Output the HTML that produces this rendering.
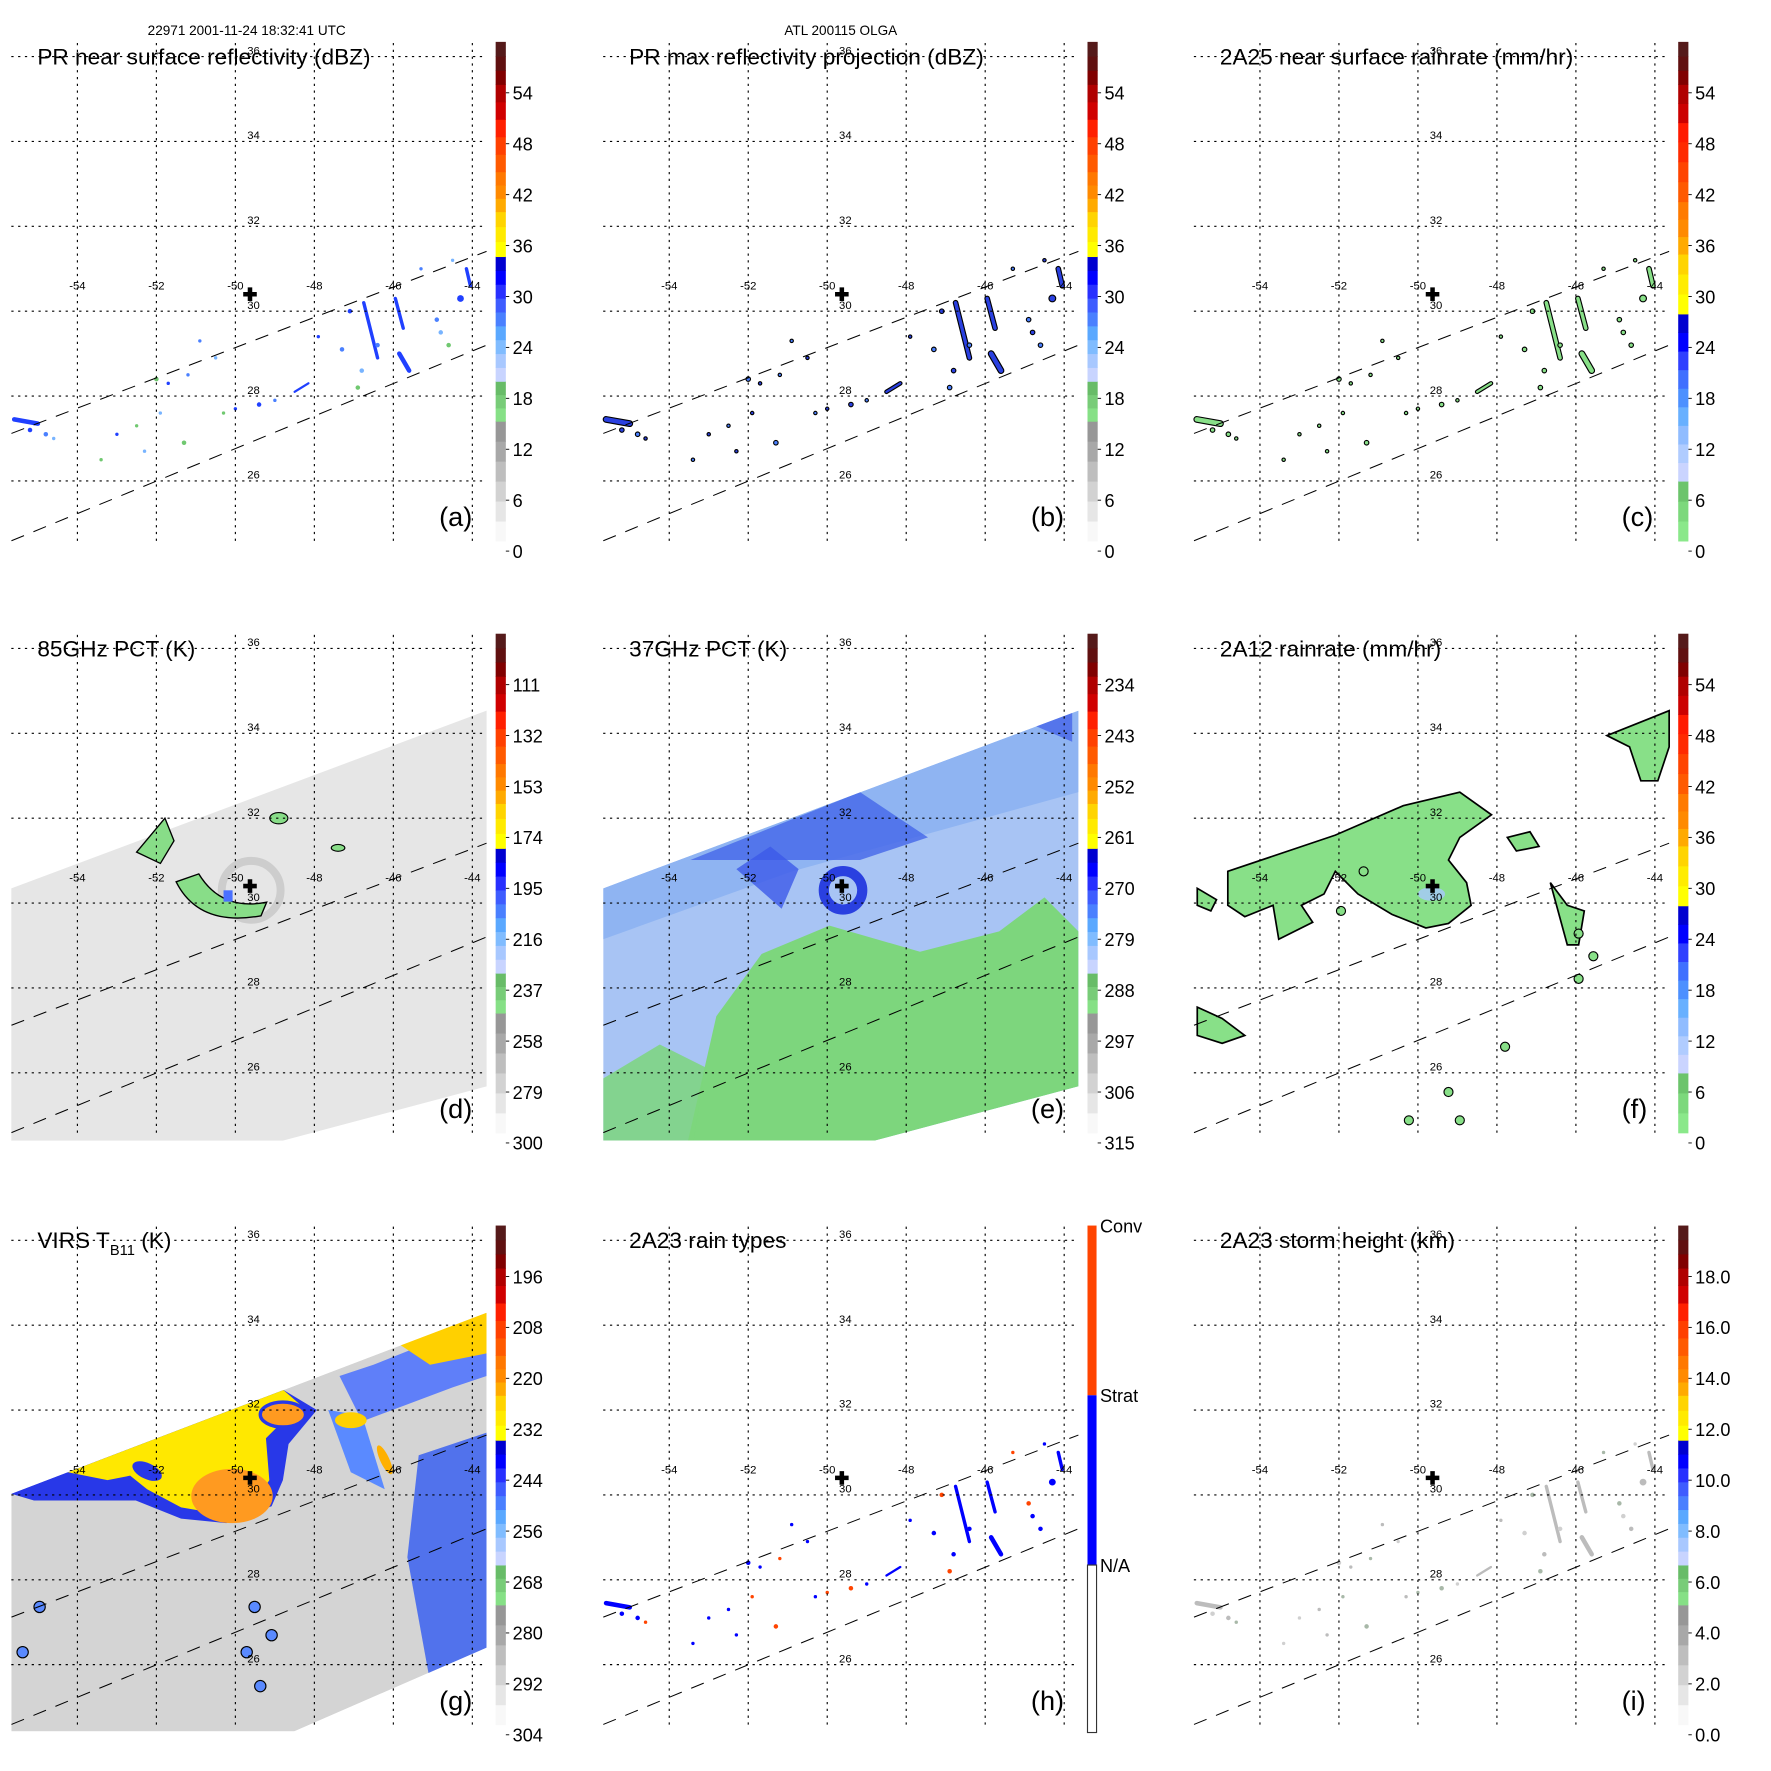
<!DOCTYPE html>
<html><head><meta charset="utf-8">
<style>
html,body{margin:0;padding:0;background:#fff;}
svg{display:block;font-family:"Liberation Sans",sans-serif;}
</style></head>
<body>
<svg id="fig" width="1771" height="1771" viewBox="0 0 1565 1565" xmlns="http://www.w3.org/2000/svg">
<rect x="0" y="0" width="1565" height="1565" fill="#fff"/>
<defs>
<clipPath id="clipG"><polygon points="10,1320 430,1160 430,1456 260,1530 10,1530"/></clipPath>
<clipPath id="clipE"><polygon points="533,785 953,628 953,960 773,1008 533,1008"/></clipPath>
</defs>
</svg>
<script>
// ---- data arrays ----
const lonTicks = [-54,-52,-50,-48,-46,-44];
const latTicks = [36,34,32,30,28,26];
const stormCenter = [-49.63, 30.4];
const panelTitles = ["PR near surface reflectivity (dBZ)","PR max reflectivity projection (dBZ)","2A25 near surface rainrate (mm/hr)","85GHz PCT (K)","37GHz PCT (K)","2A12 rainrate (mm/hr)","VIRS T","2A23 rain types","2A23 storm height (km)"];
const panelLetters = ["(a)","(b)","(c)","(d)","(e)","(f)","(g)","(h)","(i)"];
const cbLabelsA = ["0","6","12","18","24","30","36","42","48","54"];
const cbLabelsD = ["300","279","258","237","216","195","174","153","132","111"];
const cbLabelsE = ["315","306","297","288","279","270","261","252","243","234"];
const cbLabelsG = ["304","292","280","268","256","244","232","220","208","196"];
const cbLabelsI = ["0.0","2.0","4.0","6.0","8.0","10.0","12.0","14.0","16.0","18.0"];
const swathUpper = [[-55.67,27.12],[-43.64,31.41]];
const swathLower = [[-55.67,24.59],[-43.64,29.2]];
const streaks = [[-46.75,30.2,-46.4,28.9,3],[-45.95,30.3,-45.75,29.6,3],[-45.85,29.0,-45.6,28.6,4],[-44.15,31.0,-44.05,30.6,3],[-48.5,28.1,-48.15,28.3,2],[-55.6,27.45,-55.0,27.35,4]];
const dots = [[-44.3,30.3,3],[-44.9,29.8,2],[-44.8,29.5,2],[-44.6,29.2,2],[-47.1,30.0,2],[-47.3,29.1,2],[-46.8,28.6,2],[-46.9,28.2,2],[-55.2,27.2,2],[-54.8,27.1,2],[-54.6,27.0,1.5],[-52.0,28.4,2],[-51.7,28.3,1.5],[-51.2,28.5,1.5],[-50.5,28.9,1.5],[-50.3,27.6,1.5],[-49.4,27.8,2],[-49.0,27.9,1.5],[-52.3,26.7,1.5],[-51.3,26.9,2],[-53.0,27.1,1.5],[-50.9,29.3,1.5],[-51.9,27.6,1.5],[-53.4,26.5,1.5],[-47.9,29.4,1.5],[-45.3,31.0,1.5],[-44.5,31.2,1.5],[-52.5,27.3,1.5],[-50.0,27.7,1.5],[-46.4,29.2,2]];

const colOff = [0,523,1045], rowOff = [0,523,1046];
function px(lon,c){return 208 + (lon+50)*34.9 + colOff[c];}
function py(lat,r){return 275 - (lat-30)*37.5 + rowOff[r];}
const NS = "http://www.w3.org/2000/svg";
const svg = document.getElementById('fig');
function mk(tag, attrs, parent){const e=document.createElementNS(NS,tag);for(const k in attrs)e.setAttribute(k,attrs[k]);(parent||svg).appendChild(e);return e;}

const scaleStd = [[0,0.24,["#f8f8f8","#e6e6e6","#d2d2d2","#bebebe","#a8a8a8","#979797"]],[0.24,0.32,["#86e086","#78cc78","#68bc68"]],[0.32,0.57,["#c8d4ff","#a8c8ff","#80bcff","#5aa8ff","#4a80ff","#3e5cff","#2830ff","#0000ff","#0000d0"]],[0.57,0.66,["#ffff00","#ffea00","#ffd400"]],[0.66,0.74,["#ffaa00","#ff8a00","#ff7800"]],[0.74,0.915,["#ff5a00","#ff4000","#ff2000","#d00000","#b00000"]],[0.915,1,["#800000","#601010","#551a1a"]]];
const scaleRain = [[0,0.12,["#8ae88a","#7cd87c","#6cc46c"]],[0.12,0.455,["#cad4ff","#b0ccff","#90bcff","#68b0ff","#4c90ff","#4070ff","#3040ff","#0000ff","#0000d0"]],[0.455,0.575,["#ffff00","#ffec00","#ffd400"]],[0.575,0.68,["#ffaa00","#ff8a00","#ff7a00"]],[0.68,0.8,["#ff5a00","#ff4400","#ff2a00"]],[0.8,0.915,["#ff1a00","#cc0000","#b00000"]],[0.915,1,["#800000","#601010","#551a1a"]]];

function colorbar(c,r,scale,labels){
  const x=438+colOff[c], y0=37+rowOff[r], y1=478+rowOff[r], h=y1-y0;
  const g=mk('g',{});
  
  
  scale.forEach(([a,b,cols])=>{
    const n=cols.length;
    cols.forEach((col,i)=>{
      const fa=a+(b-a)*i/n, fb=a+(b-a)*(i+1)/n;
      mk('rect',{x:x,y:y1-fb*h,width:9,height:(fb-fa)*h+0.5,fill:col},g);
    });
  });
  labels.forEach((t,i)=>{
    const yy=487+rowOff[r]-i*45;
    mk('line',{x1:x+9,x2:x+12,y1:yy,y2:yy,stroke:'#000','stroke-width':0.8},g);
    const tx=mk('text',{x:x+15,y:yy+6,'font-size':16,fill:'#000'},g);
    tx.textContent=t;
    
    
  });
}

function panelFrame(c,r,idx){
  const g=mk('g',{});
  
  
  lonTicks.forEach(l=>{
    const x=px(l,c);
    mk('line',{x1:x,x2:x,y1:38+rowOff[r],y2:482+rowOff[r],stroke:'#000','stroke-width':1,'stroke-dasharray':'2,4'},g);
    const t=mk('text',{x:x,y:256+rowOff[r],'font-size':10,'text-anchor':'middle'},g);
    t.textContent=String(l);
  });
  latTicks.forEach(l=>{
    const y=py(l,r);
    mk('line',{x1:10+colOff[c],x2:430+colOff[c],y1:y,y2:y,stroke:'#000','stroke-width':1,'stroke-dasharray':'2,4'},g);
    const t=mk('text',{x:224+colOff[c],y:y-2,'font-size':10,'text-anchor':'middle'},g);
    t.textContent=String(l);
  });
  [swathUpper,swathLower].forEach(s=>{
    mk('line',{x1:px(s[0][0],c),y1:py(s[0][1],r),x2:px(s[1][0],c),y2:py(s[1][1],r),stroke:'#000','stroke-width':0.9,'stroke-dasharray':'12,9'},g);
  });
  const cx=px(stormCenter[0],c), cy=py(stormCenter[1],r);
  const cr=mk('path',{d:`M${cx-6} ${cy-2}h4v-4h4v4h4v4h-4v4h-4v-4h-4z`,fill:'#000'},g);
  
  
  const tt=mk('text',{x:33+colOff[c],y:57+rowOff[r],'font-size':20},g);
  
  
  if(idx===6){tt.textContent='VIRS T';const s=mk('tspan',{'font-size':13,dy:6},tt);s.textContent='B11';const s2=mk('tspan',{dy:-6},tt);s2.textContent=' (K)';}
  else tt.textContent=panelTitles[idx];
  const lt=mk('text',{x:388+colOff[c],y:465+rowOff[r],'font-size':24},g);
  lt.textContent=panelLetters[idx];
  
  
}

function precip(c,r,fill,stroke,name){
  const g=mk('g',{});
  
  
  streaks.forEach(s=>{
    if(stroke) mk('line',{x1:px(s[0],c),y1:py(s[1],r),x2:px(s[2],c),y2:py(s[3],r),stroke:stroke,'stroke-width':s[4]+2,'stroke-linecap':'round'},g);
    mk('line',{x1:px(s[0],c),y1:py(s[1],r),x2:px(s[2],c),y2:py(s[3],r),stroke:Array.isArray(fill)?fill[0]:fill,'stroke-width':s[4],'stroke-linecap':'round'},g);
  });
  dots.forEach((d,i)=>{
    const f=Array.isArray(fill)?fill[i%fill.length]:fill;
    mk('circle',{cx:px(d[0],c),cy:py(d[1],r),r:d[2],fill:f,stroke:stroke||'none','stroke-width':stroke?1:0},g);
  });
}

function swathPoly(c,r,pts,fill,name,parent){
  const p=mk('polygon',{points:pts.map(q=>(q[0]+colOff[c])+','+(q[1]+rowOff[r])).join(' '),fill:fill},parent);
  
  
  return p;
}
const swathShape=[[10,262],[430,105],[430,437],[250,485],[10,485]];

// (d)
swathPoly(0,1,swathShape,'#e6e6e6','tb85-swath');
mk('circle',{cx:px(-49.6,0),cy:py(30.3,1),r:26,fill:'none',stroke:'#cdcdcd','stroke-width':7});
mk('path',{d:`M${px(-52.5,0)} ${py(31.2,1)} l25 -30 l8 20 l-12 20 z`,fill:'#88dd88',stroke:'#000','stroke-width':1.2});
mk('path',{d:`M${px(-51.5,0)} ${py(30.5,1)} q20 40 75 30 l5 -12 q-40 8 -60 -25 z`,fill:'#88dd88',stroke:'#000','stroke-width':1.2});
mk('rect',{x:px(-50.3,0),y:py(30.3,1),width:8,height:10,fill:'#4a70ff'});
mk('ellipse',{cx:px(-48.9,0),cy:py(32,1),rx:8,ry:5,fill:'#88dd88',stroke:'#000'});
mk('ellipse',{cx:px(-47.4,0),cy:py(31.3,1),rx:6,ry:3,fill:'#88dd88',stroke:'#000'});
// (e)
(function(){
  const g=mk('g',{'clip-path':'url(#clipE)'});
  
  
  swathPoly(1,1,swathShape,'#a8c4f4','tb37-swath',g);
  mk('path',{d:`M${533} ${785} L${953} ${628} L${953} ${700} L${700} ${770} L${533} ${830} Z`,fill:'#8cb2f2',opacity:0.9},g);
  mk('path',{d:`M${610} ${760} L${760} ${700} L${820} ${740} L${760} ${760} Z`,fill:'#4466e8',opacity:0.8},g);
  mk('circle',{cx:px(-49.6,1),cy:py(30.3,1),r:17,fill:'none',stroke:'#2a40e0','stroke-width':9},g);
  mk('path',{d:`M${px(-52.3,1)} ${py(30.8,1)} l30 -20 l25 20 l-15 35 z`,fill:'#3c5ae8',opacity:0.8},g);
  mk('path',{d:`M${px(-44.8,1)} ${py(34.2,1)} l35 -15 l0 30 z`,fill:'#3c5ae8',opacity:0.7},g);
  mk('polygon',{points:[[85,485],[110,375],[150,320],[210,295],[290,318],[360,300],[400,270],[430,300],[430,437],[250,485]].map(q=>(q[0]+523)+','+(q[1]+523)).join(' '),fill:'#7dd67d'},g);
  mk('polygon',{points:[[10,430],[60,400],[100,420],[90,485],[10,485]].map(q=>(q[0]+523)+','+(q[1]+523)).join(' '),fill:'#7dd67d',opacity:0.85},g);
})();
// (f)
(function(){
  const g=mk('g',{});
  
  
  const polys=[
    [[1085,770],[1180,738],[1240,712],[1290,700],[1318,720],[1290,740],[1280,760],[1296,780],[1300,800],[1280,816],[1260,820],[1230,808],[1200,790],[1180,770],[1170,790],[1150,800],[1160,815],[1130,830],[1125,800],[1100,810],[1085,800]],
    [[1420,650],[1475,628],[1475,660],[1465,690],[1450,690],[1440,660]],
    [[1058,785],[1075,795],[1070,805],[1058,800]],
    [[1058,890],[1080,900],[1100,915],[1080,922],[1058,915]],
    [[1370,780],[1385,800],[1400,805],[1395,835],[1385,835]],
    [[1332,740],[1352,735],[1360,748],[1340,752]]
  ];
  polys.forEach(p=>mk('polygon',{points:p.map(q=>q.join(',')).join(' '),fill:'#88e088',stroke:'#000','stroke-width':1.5},g));
  mk('ellipse',{cx:1265,cy:790,rx:12,ry:6,fill:'#a8c8ff',opacity:0.8},g);
  [[1395,825],[1408,845],[1395,865],[1280,965],[1290,990],[1330,925],[1245,990],[1205,770],[1185,805]].forEach(d=>mk('circle',{cx:d[0],cy:d[1],r:4,fill:'#88e088',stroke:'#000'},g));
})();
// (g)
(function(){
  const g=mk('g',{'clip-path':'url(#clipG)'});
  
  
  swathPoly(0,2,[[10,274],[430,114],[430,410],[260,484],[10,484]],'#d4d4d4','virs-swath',g);
  const o=(p)=>p.map(q=>q[0]+','+(q[1]+1046)).join(' ');
  mk('polygon',{points:o([[10,274],[250,182],[280,200],[255,230],[250,262],[240,285],[200,300],[160,296],[120,280],[70,280],[30,280]]),fill:'#2838e8'},g);
  mk('polygon',{points:o([[60,255],[250,182],[265,195],[235,225],[238,262],[225,282],[195,292],[160,286],[130,270],[115,258],[95,262]]),fill:'#ffe800'},g);
  mk('ellipse',{cx:205,cy:1322,rx:36,ry:24,fill:'#ff9a20'},g);
  mk('ellipse',{cx:130,cy:1300,rx:14,ry:7,fill:'#2838e8',transform:'rotate(25 130 1300)'},g);
  mk('ellipse',{cx:250,cy:1250,rx:20,ry:11,fill:'#ff9a20',stroke:'#2838e8','stroke-width':3},g);
  mk('polygon',{points:o([[300,170],[330,160],[380,140],[430,118],[430,170],[400,180],[360,195],[320,210]]),fill:'#4a70ff',opacity:0.85},g);
  mk('polygon',{points:o([[350,140],[430,110],[430,150],[380,160]]),fill:'#ffd000'},g);
  mk('polygon',{points:o([[370,240],[430,220],[430,420],[380,440],[360,330]]),fill:'#3a60f0',opacity:0.85},g);
  mk('polygon',{points:o([[290,200],[320,205],[340,270],[310,255]]),fill:'#5a8aff'},g);
  mk('ellipse',{cx:310,cy:1255,rx:14,ry:7,fill:'#ffd000'},g);
  mk('ellipse',{cx:340,cy:1290,rx:4,ry:14,fill:'#ffb000',transform:'rotate(-25 340 1290)'},g);
  [[225,1420],[240,1445],[218,1460],[230,1490],[35,1420],[20,1460]].forEach(d=>mk('circle',{cx:d[0],cy:d[1],r:5,fill:'#5a8aff',stroke:'#000'},g));
})();

precip(0,0,['#2040ff','#4a80ff','#78b4ff','#70c870'],null,'pr-reflectivity-echoes');
precip(1,0,['#2a40e0','#4a80ff'],'#000','pr-max-reflectivity-echoes');
precip(2,0,'#88e088','#000','pr-rainrate-echoes');
precip(1,2,['#0000ff','#ff4400','#0000ff'],null,'rain-type-pixels');
precip(2,2,['#bcbcbc','#a8b8a8','#d0d0d0'],null,'storm-height-pixels');

for(let r=0;r<3;r++)for(let c=0;c<3;c++)panelFrame(c,r,r*3+c);
colorbar(0,0,scaleStd,cbLabelsA);
colorbar(1,0,scaleStd,cbLabelsA);
colorbar(2,0,scaleRain,cbLabelsA);
colorbar(0,1,scaleStd,cbLabelsD);
colorbar(1,1,scaleStd,cbLabelsE);
colorbar(2,1,scaleRain,cbLabelsA);
colorbar(0,2,scaleStd,cbLabelsG);
colorbar(2,2,scaleStd,cbLabelsI);
(function(){
  const g=mk('g',{});
  
  
  const x=961,top=1083;
  mk('rect',{x:x,y:top,width:8,height:150,fill:'#ff4400'},g);
  mk('rect',{x:x,y:top+150,width:8,height:150,fill:'#0000ff'},g);
  mk('rect',{x:x,y:top+300,width:8,height:148,fill:'#fff',stroke:'#333','stroke-width':1},g);
  [['Conv',top+6],['Strat',top+156],['N/A',top+306]].forEach(([t,y])=>{const e=mk('text',{x:972,y:y,'font-size':16},g);e.textContent=t;});
})();

const h1=mk('text',{x:218,y:31,'font-size':12,'text-anchor':'middle'});
h1.textContent='22971 2001-11-24 18:32:41 UTC';


const h2=mk('text',{x:743,y:31,'font-size':12,'text-anchor':'middle'});
h2.textContent='ATL 200115 OLGA';


</script>
</body></html>
